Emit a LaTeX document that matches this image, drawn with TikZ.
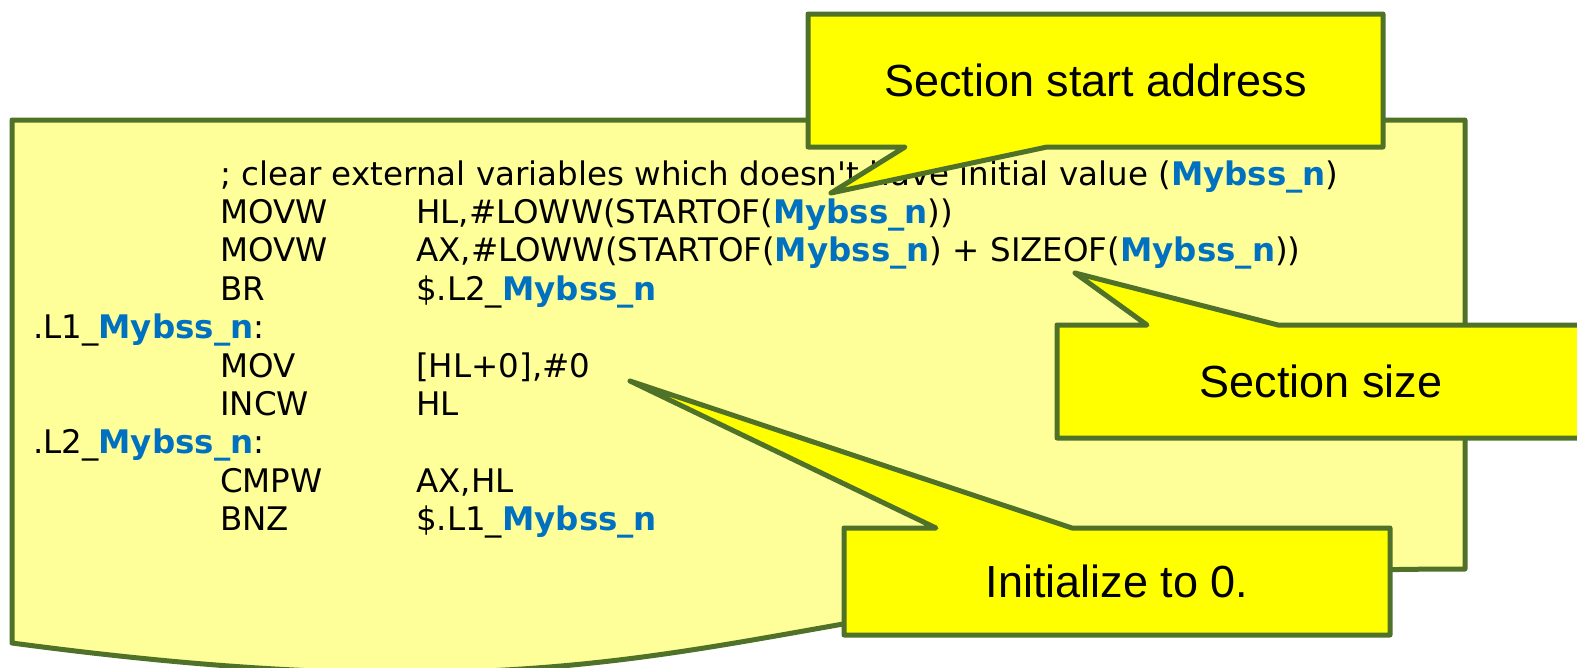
\documentclass[tikz,border=0pt]{standalone}
\usepackage{fontspec}
\setmainfont{Liberation Sans}
\newfontfamily\codefont{DejaVu Sans}
\definecolor{edgegreen}{RGB}{79,113,40}
\definecolor{paleyellow}{RGB}{255,255,153}
\definecolor{calloutyellow}{RGB}{255,255,0}
\definecolor{codeblue}{RGB}{0,112,192}
\newcommand{\mb}{\textcolor{codeblue}{\bfseries Mybss\_n}}
\tikzset{
  outline/.style={draw=edgegreen, line width=5pt, line join=round},
  codeline/.style={anchor=base west, inner sep=0pt, font=\codefont\fontsize{32.5}{39}\selectfont},
  calltext/.style={inner sep=0pt, font=\fontsize{45}{54}\selectfont}
}
\begin{document}
\begin{tikzpicture}[x=1pt,y=-1pt]
\useasboundingbox (0,0) rectangle (1577,667);
\clip (0,0) rectangle (1577,667);
% main document shape
\path[outline, fill=paleyellow] (12,120) -- (1465,120) -- (1465,569)
  .. controls (738.5,569) and (738.5,740) .. (12,643) -- cycle;
% code
\node[codeline] (r0) at (220,185) {; clear external variables which doesn't have initial value (\mb)};
\node[codeline] (r1a) at (220,223.4) {MOVW};
\node[codeline] (r1b) at (416,223.4) {HL,\#LOWW(STARTOF(\mb))};
\node[codeline] (r2a) at (220,261.8) {MOVW};
\node[codeline] (r2b) at (416,261.8) {AX,\#LOWW(STARTOF(\mb) + SIZEOF(\mb))};
\node[codeline] (r3a) at (220,300.2) {BR};
\node[codeline] (r3b) at (416,300.2) {\$.L2\_\mb};
\node[codeline] (r4) at (33,338.6) {.L1\_\mb:};
\node[codeline] (r5a) at (220,377) {MOV};
\node[codeline] (r5b) at (416,377) {[HL+0],\#0};
\node[codeline] (r6a) at (220,415.4) {INCW};
\node[codeline] (r6b) at (416,415.4) {HL};
\node[codeline] (r7) at (33,453.8) {.L2\_\mb:};
\node[codeline] (r8a) at (220,492.2) {CMPW};
\node[codeline] (r8b) at (416,492.2) {AX,HL};
\node[codeline] (r9a) at (220,530.6) {BNZ};
\node[codeline] (r9b) at (416,530.6) {\$.L1\_\mb};
% callout 1
\path[outline, fill=calloutyellow] (808,14) -- (1383,14) -- (1383,147) -- (1047,147)
  -- (831,193) -- (905,147) -- (808,147) -- cycle;
\node[calltext] (c1) at (1095.5,80.5) {Section start address};
% callout 2
\path[outline, fill=calloutyellow] (1057,325) -- (1147,325) -- (1075,273) -- (1278,325)
  -- (1585,325) -- (1585,438) -- (1057,438) -- cycle;
\node[calltext] (c2) at (1321,381.5) {Section size};
% callout 3
\path[outline, fill=calloutyellow] (844,528) -- (936,528) -- (630,381) -- (1072,528)
  -- (1390,528) -- (1390,635) -- (844,635) -- cycle;
\node[calltext] (c3) at (1117,581.5) {Initialize to 0.};
\end{tikzpicture}
\end{document}
